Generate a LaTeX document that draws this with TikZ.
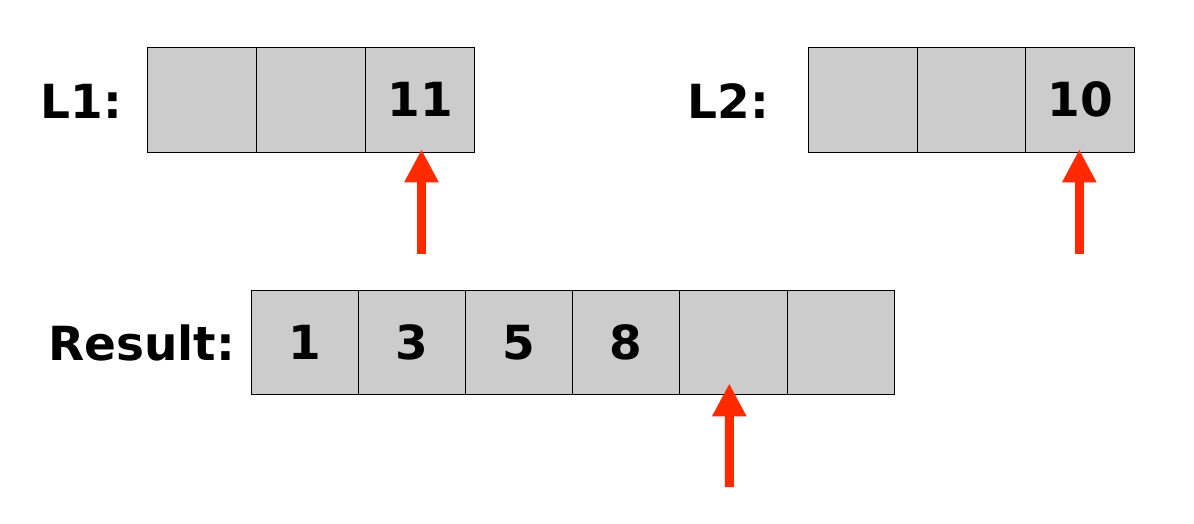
\documentclass[tikz,border=0pt]{standalone}
\usepackage{fontspec}
\setmainfont{DejaVu Sans}
\usetikzlibrary{arrows.meta,calc}
\definecolor{cellgray}{HTML}{CCCCCC}
\definecolor{ptrred}{RGB}{255,42,0}
\begin{document}
\begin{tikzpicture}[x=1pt,y=-1pt,
  cellbox/.style={draw=black,line width=1pt,fill=cellgray,minimum width=109pt,minimum height=105pt,inner sep=0pt,outer sep=0pt,font=\fontsize{47}{56}\selectfont\bfseries},
  rcell/.style={cellbox,minimum width=107.2pt,minimum height=104pt},
  lbl/.style={inner sep=0pt,font=\fontsize{47}{56}\selectfont\bfseries},
  ptr/.style={draw=ptrred,line width=9pt,-{Triangle[length=33pt,width=32pt]}}]
\useasboundingbox (0,0) rectangle (1194,524);
% L1
\node[cellbox] (l11) at (202.3,99.8) {};
\node[cellbox] (l12) at (311.3,99.8) {};
\node[cellbox] (l13) at (420.3,99.8) {11};
\node[lbl] (l1lab) at (81.5,101) {L1:};
% L2
\node[cellbox] (l21) at (862.8,99.8) {};
\node[cellbox] (l22) at (971.8,99.8) {};
\node[cellbox] (l23) at (1080.3,99.8) {10};
\node[lbl] (l2lab) at (728.5,101) {L2:};
% Result
\node[rcell] (r1) at (304.6,342.3) {1};
\node[rcell] (r2) at (411.8,342.3) {3};
\node[rcell] (r3) at (519,342.3) {5};
\node[rcell] (r4) at (626.2,342.3) {8};
\node[rcell] (r5) at (733.4,342.3) {};
\node[rcell] (r6) at (840.6,342.3) {};
\node[lbl] (rlab) at (141.5,343) {Result:};
% pointers
\coordinate (p1) at (421.5,253.5);
\coordinate (p2) at (1079.3,253.5);
\coordinate (p3) at (729.3,487);
\draw[ptr] (p1) -- ([xshift=1.2pt,yshift=3pt]l13.south);
\draw[ptr] (p2) -- ([xshift=-1pt,yshift=3pt]l23.south);
\draw[ptr] (p3) -- ([xshift=-4.1pt,yshift=11pt]r5.south);
\end{tikzpicture}
\end{document}
